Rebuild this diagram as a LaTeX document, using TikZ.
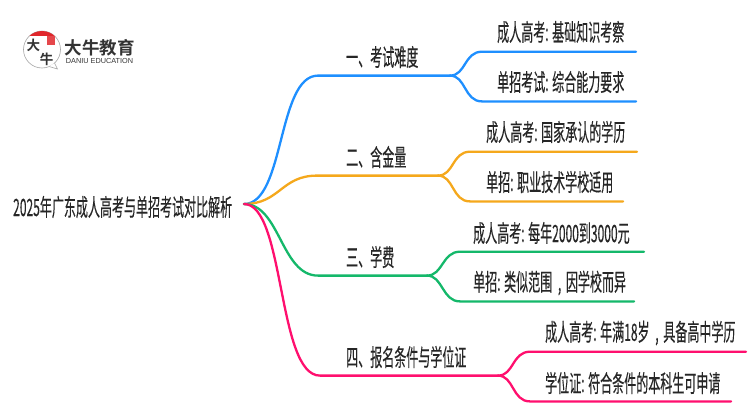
\documentclass[tikz,border=0pt]{standalone}
\usepackage{fontspec}
\newfontfamily\cjk[FakeStretch=0.505,FakeBold=0.25]{Noto Sans CJK SC}
\newfontfamily\logofont[BoldFont={Noto Sans CJK SC Bold}]{Noto Sans CJK SC}
\newfontfamily\latinlogo{Liberation Sans}
\definecolor{lineblue}{HTML}{1E8FFF}
\definecolor{lineorange}{HTML}{F5A81C}
\definecolor{linegreen}{HTML}{14B86A}
\definecolor{linepink}{HTML}{FF0F6E}
\definecolor{logoink}{HTML}{333333}
\definecolor{logored}{HTML}{E0262B}
\tikzset{
    label/.style={anchor=west,inner sep=0pt,text=black!85,font=\cjk\fontsize{23.8}{28}\selectfont},
    limb/.style={line width=2.3pt,line cap=round},
    logochar/.style={inner sep=0pt,text=logoink,font=\logofont\bfseries\fontsize{13.5}{14}\selectfont},
}

\begin{document}
\begin{tikzpicture}[x=1pt,y=-1pt]
    \useasboundingbox [fill=white] (0,0) rectangle (750,410);
    % logo
    \draw [black!35,fill=white,line width=.6pt] (42,49.5) circle (18.5);
    \draw [black!35,fill=white,line width=.6pt] (49,66.5) -- (57.5,69) -- (54.5,63);
    \begin{scope}
        \clip (42,49.5) circle (18.5);
        \fill [logored] (20,30) rectangle (64,36);
    \end{scope}
    \fill [logored!85] (47,36) rectangle (55,45);
    \node (logoa) [logochar] at (33.5,45) {大};
    \node (logob) [logochar] at (46.5,59) {牛};
    \node (logotext) [inner sep=0pt,text=logoink,font=\logofont\bfseries\fontsize{17.5}{18}\selectfont] at (99.5,47.5) {大牛教育};
    \node (logosub) [inner sep=0pt,text=logoink,font=\latinlogo\fontsize{7.3}{8}\selectfont] at (99.5,60.5) {DANIU EDUCATION};
    % root and first level
    \node (root) [label] at (13,207) {2025年广东成人高考与单招考试对比解析};
    \coordinate (rootout) at (244,204);
    \node (diff) [label] at (346,57) {一、考试难度};
    \node (gold) [label] at (346,157) {二、含金量};
    \node (fee) [label] at (346,257) {三、学费};
    \node (cond) [label] at (346,357) {四、报名条件与学位证};
    % second level
    \node (diffa) [label] at (497,32) {成人高考: 基础知识考察};
    \node (diffb) [label] at (497,82) {单招考试: 综合能力要求};
    \node (golda) [label] at (486,132) {成人高考: 国家承认的学历};
    \node (goldb) [label] at (486,182) {单招: 职业技术学校适用};
    \node (feea) [label] at (473,233) {成人高考: 每年2000到3000元};
    \node (feeb) [label] at (473,283) {单招: 类似范围\hspace{3pt} , \hspace{2pt}因学校而异};
    \node (conda) [label] at (545,333) {成人高考: 年满18岁\hspace{3pt} , \hspace{2pt}具备高中学历};
    \node (condb) [label] at (545,383) {学位证: 符合条件的本科生可申请};
    % junctions
    \coordinate (diffj) at (450,75.6);
    \coordinate (goldj) at (438,175.6);
    \coordinate (feej) at (427,275.6);
    \coordinate (condj) at (498,375.6);
    % line ends
    \coordinate (diffae) at (636,51.7);
    \coordinate (diffbe) at (636,101.4);
    \coordinate (goldae) at (637,151.7);
    \coordinate (goldbe) at (623,201.4);
    \coordinate (feeae) at (644,251.7);
    \coordinate (feebe) at (634,301.4);
    \coordinate (condae) at (746,351.7);
    \coordinate (condbe) at (731,401.4);
    % blue
    \draw [limb,lineblue] (rootout) .. controls (285,204) and (277,75.6) .. (318,75.6) -- (diffj);
    \draw [limb,lineblue] (diffj) .. controls (466,75.6) and (464,51.7) .. (482,51.7) -- (diffae);
    \draw [limb,lineblue] (diffj) .. controls (466,75.6) and (464,101.4) .. (482,101.4) -- (diffbe);
    % orange
    \draw [limb,lineorange] (rootout) .. controls (280,204) and (281,175.6) .. (317,175.6) -- (goldj);
    \draw [limb,lineorange] (goldj) .. controls (454,175.6) and (452,151.7) .. (470,151.7) -- (goldae);
    \draw [limb,lineorange] (goldj) .. controls (454,175.6) and (452,201.4) .. (470,201.4) -- (goldbe);
    % green
    \draw [limb,linegreen] (rootout) .. controls (280,204) and (281,275.6) .. (318,275.6) -- (feej);
    \draw [limb,linegreen] (feej) .. controls (443,275.6) and (442,251.7) .. (460,251.7) -- (feeae);
    \draw [limb,linegreen] (feej) .. controls (443,275.6) and (442,301.4) .. (460,301.4) -- (feebe);
    % pink
    \draw [limb,linepink] (rootout) .. controls (285,204) and (277,375.6) .. (320,375.6) -- (condj);
    \draw [limb,linepink] (condj) .. controls (514,375.6) and (512,351.7) .. (530,351.7) -- (condae);
    \draw [limb,linepink] (condj) .. controls (514,375.6) and (512,401.4) .. (530,401.4) -- (condbe);
\end{tikzpicture}
\end{document}
